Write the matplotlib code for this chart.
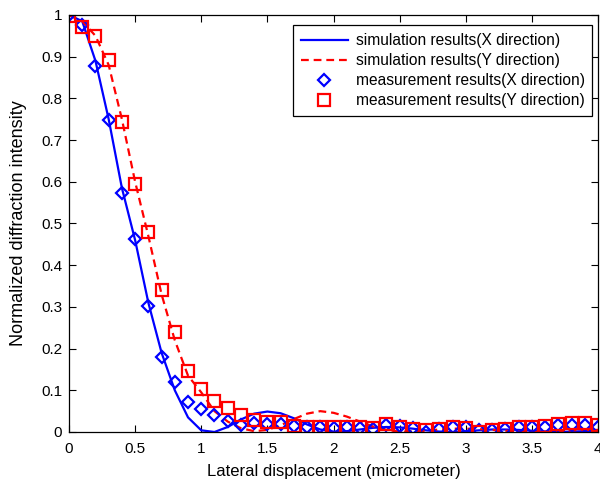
import numpy as np
import matplotlib

matplotlib.use("Agg")
import matplotlib.pyplot as plt

plt.rcParams["font.family"] = ["Liberation Sans", "DejaVu Sans"]
plt.rcParams["font.size"] = 11

# simulation curves, sampled every 0.1 micrometer
sim_x = np.round(np.arange(0, 4.01, 0.1), 2)
sim_x_dir = [1.0, 0.985, 0.89, 0.75, 0.585, 0.46, 0.31, 0.19, 0.10, 0.035,
             0.004, 0.0, 0.012, 0.03, 0.044, 0.049, 0.045, 0.033, 0.018, 0.006,
             0.001, 0.002, 0.006, 0.01, 0.012, 0.011, 0.008, 0.004, 0.001, 0.0,
             0.002, 0.004, 0.006, 0.006, 0.005, 0.003, 0.001, 0.0, 0.001, 0.002, 0.003]
sim_y_dir = [1.0, 0.985, 0.95, 0.88, 0.75, 0.60, 0.47, 0.33, 0.22, 0.135,
             0.095, 0.05, 0.025, 0.009, 0.002, 0.005, 0.016, 0.031, 0.044, 0.05,
             0.046, 0.037, 0.025, 0.013, 0.005, 0.001, 0.001, 0.003, 0.006, 0.008,
             0.008, 0.007, 0.005, 0.003, 0.001, 0.0, 0.001, 0.002, 0.004, 0.005, 0.005]

# measurements, also every 0.1 micrometer
meas_x = np.round(np.arange(0, 4.01, 0.1), 2)
meas_x_dir = [1.0, 0.977, 0.877, 0.748, 0.574, 0.462, 0.302, 0.179, 0.119, 0.073,
              0.054, 0.04, 0.027, 0.016, 0.021, 0.02, 0.02, 0.014, 0.013, 0.011,
              0.01, 0.011, 0.01, 0.008, 0.017, 0.014, 0.01, 0.001, 0.007, 0.013,
              0.011, 0.005, 0.005, 0.008, 0.013, 0.011, 0.013, 0.017, 0.017, 0.017, 0.013]
meas_y_dir = [0.998, 0.97, 0.95, 0.891, 0.743, 0.595, 0.48, 0.34, 0.24, 0.146,
              0.103, 0.075, 0.057, 0.04, 0.029, 0.025, 0.023, 0.014, 0.013, 0.011,
              0.011, 0.013, 0.011, 0.01, 0.019, 0.011, 0.007, 0.004, 0.007, 0.011,
              0.01, 0.0, 0.004, 0.006, 0.011, 0.013, 0.015, 0.019, 0.022, 0.022, 0.017]

x_ticks = [0, 0.5, 1, 1.5, 2, 2.5, 3, 3.5, 4]
x_tick_labels = ["0", "0.5", "1", "1.5", "2", "2.5", "3", "3.5", "4"]
y_ticks = [0, 0.1, 0.2, 0.3, 0.4, 0.5, 0.6, 0.7, 0.8, 0.9, 1]
y_tick_labels = ["0", "0.1", "0.2", "0.3", "0.4", "0.5", "0.6", "0.7", "0.8", "0.9", "1"]

fig = plt.figure(figsize=(6.0, 4.83), dpi=100)
ax = fig.add_axes([0.115, 0.1056, 0.8817, 0.8634])

ax.plot(sim_x, sim_x_dir, color="#0000ff", linewidth=1.6, label="simulation results(X direction)")
ax.plot(sim_x, sim_y_dir, color="#ff0000", linewidth=1.6, linestyle=(0, (3.5, 2.2)),
        label="simulation results(Y direction)")
ax.plot(meas_x, meas_x_dir, linestyle="none", marker="D", markersize=6.2, markerfacecolor="none",
        markeredgecolor="#0000ff", markeredgewidth=1.6, label="measurement results(X direction)")
ax.plot(meas_x, meas_y_dir, linestyle="none", marker="s", markersize=8.5, markerfacecolor="none",
        markeredgecolor="#ff0000", markeredgewidth=1.6, label="measurement results(Y direction)")

ax.set_xlim(0, 4)
ax.set_ylim(0, 1)
ax.set_xticks(x_ticks)
ax.set_xticklabels(x_tick_labels)
ax.set_yticks(y_ticks)
ax.set_yticklabels(y_tick_labels)
ax.tick_params(direction="in", length=5, width=0.8, top=True, right=True, labelsize=11)
ax.tick_params(axis="x", pad=7)
ax.tick_params(axis="y", pad=5)
for spine in ax.spines.values():
    spine.set_linewidth(0.9)
ax.set_xlabel("Lateral displacement (micrometer)", fontsize=12, labelpad=6)
ax.set_ylabel("Normalized diffraction intensity", fontsize=13, labelpad=10)

leg = ax.legend(loc="upper right", bbox_to_anchor=(1.004, 0.994), fontsize=11.2, numpoints=1,
                handlelength=3.0, handletextpad=0.5, borderpad=0.5, labelspacing=0.33,
                fancybox=False, framealpha=1, edgecolor="black")
leg.get_frame().set_linewidth(0.9)

fig.savefig("out.png")
